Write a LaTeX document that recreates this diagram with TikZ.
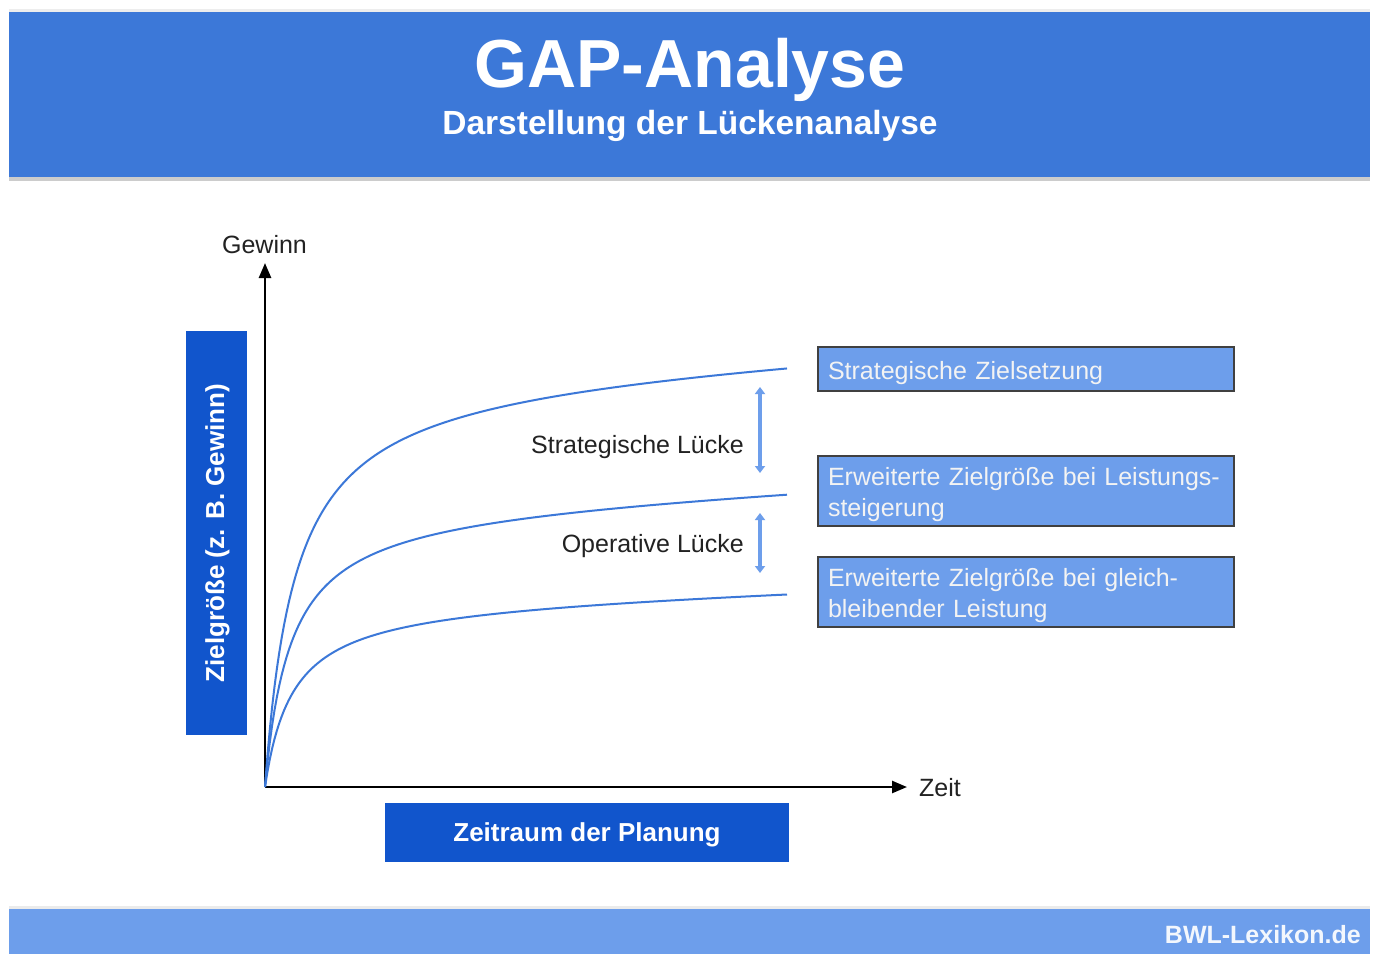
\documentclass[tikz,border=0pt]{standalone}
\usepackage{fontspec}
\setmainfont{Liberation Sans}
\usetikzlibrary{arrows.meta}
\definecolor{headblue}{HTML}{3C78D8}
\definecolor{darkblue}{HTML}{1155CC}
\definecolor{lightblue}{HTML}{6D9EEB}
\definecolor{boxtext}{HTML}{F3F3F3}
\definecolor{txt}{HTML}{222222}
\definecolor{curveblue}{HTML}{3C78D8}
\begin{document}
\begin{tikzpicture}[x=1pt,y=-1pt,
  band/.style={anchor=north west, inner sep=0pt, outer sep=0pt},
  body/.style={font=\fontsize{25}{31}\selectfont, text=txt, inner sep=0pt},
  tbox/.style={band, fill=lightblue, draw=black!75, line width=1.2pt,
    minimum width=416pt, text width=396pt, inner xsep=10pt, align=left,
    text=boxtext, font=\fontsize{25}{31}\selectfont},
  lbox/.style={band, fill=darkblue, text=white, font=\bfseries\fontsize{26}{30}\selectfont},
  axis/.style={line width=2.5pt, -{Triangle[length=15pt,width=12pt]}},
  gap/.style={draw=lightblue, line width=4pt, {Triangle[length=7pt,width=10pt]}-{Triangle[length=7pt,width=10pt]}},
  curve/.style={draw=curveblue, line width=2pt, line join=round}]
\useasboundingbox (0,0) rectangle (1374,954);
\fill[white] (0,0) rectangle (1374,954);
% header
\fill[black!7] (9,9) rectangle (1370,13);
\fill[black!20] (9,176) rectangle (1370,181);
\node[band, fill=headblue, minimum width=1361pt, minimum height=165pt] (header) at (9,12) {};
\node[text=white, font=\bfseries\fontsize{68}{72}\selectfont, anchor=base, inner sep=0pt] (title) at (690,87) {GAP-Analyse};
\node[text=white, font=\bfseries\fontsize{33.5}{36}\selectfont, anchor=base, inner sep=0pt] (subtitle) at (690,134) {Darstellung der Lückenanalyse};
% footer
\fill[black!8] (9,906) rectangle (1370,910);
\node[band, fill=lightblue, minimum width=1361pt, minimum height=45pt] (footer) at (9,909) {};
\node[text=white!92!lightblue, font=\bfseries\fontsize{25}{28}\selectfont, anchor=base east, inner sep=0pt] (brand) at (1361,943) {BWL-Lexikon.de};
% axes
\coordinate (O) at (265,787);
\coordinate (ytip) at (265,263);
\coordinate (xtip) at (907,787);
\draw[axis] (O) -- (ytip);
\draw[axis] (O) -- (xtip);
\node[body, anchor=base] (gewinn) at (264.5,253) {Gewinn};
\node[body, anchor=base west] (zeit) at (919,796) {Zeit};
% label boxes
\node[lbox, minimum width=61pt, minimum height=404pt] (ybox) at (186,331) {};
\node[text=white, font=\bfseries\fontsize{26}{30}\selectfont, rotate=90, inner sep=0pt] (ylabel) at ([xshift=1pt]ybox.center) {Zielgröße (z. B. Gewinn)};
\node[lbox, minimum width=404pt, minimum height=59pt, text height=18.6pt, text depth=0pt] (xbox) at (385,803) {Zeitraum der Planung};
% curves (saturating growth from the origin)
\draw[curve] plot[domain=0:522, samples=220, variable=\t] ({265+\t}, {787-(\t/(\t+30)*415+0.05*\t)});
\draw[curve] plot[domain=0:522, samples=220, variable=\t] ({265+\t}, {787-(\t/(\t+25.6)*282+0.045*\t)});
\draw[curve] plot[domain=0:522, samples=220, variable=\t] ({265+\t}, {787-(\t/(\t+27.6)*186.2+0.03*\t)});
% gaps
\coordinate (s1) at (760,387);
\coordinate (s2) at (760,473);
\coordinate (o1) at (760,513);
\coordinate (o2) at (760,573);
\draw[gap] (s1) -- (s2);
\draw[gap] (o1) -- (o2);
\node[body, anchor=base east] (slabel) at (744,453) {Strategische Lücke};
\node[body, anchor=base east] (olabel) at (744,552) {Operative Lücke};
% right boxes
\node[tbox, minimum height=44pt] (b1) at (818,347) {\rule{0pt}{26pt}Strategische Zielsetzung};
\node[tbox, minimum height=70pt] (b2) at (818,456) {\rule{0pt}{26pt}Erweiterte Zielgröße bei Leistungs-\\steigerung};
\node[tbox, minimum height=70pt] (b3) at (818,557) {\rule{0pt}{26pt}Erweiterte Zielgröße bei gleich-\\bleibender Leistung};
\end{tikzpicture}
\end{document}
